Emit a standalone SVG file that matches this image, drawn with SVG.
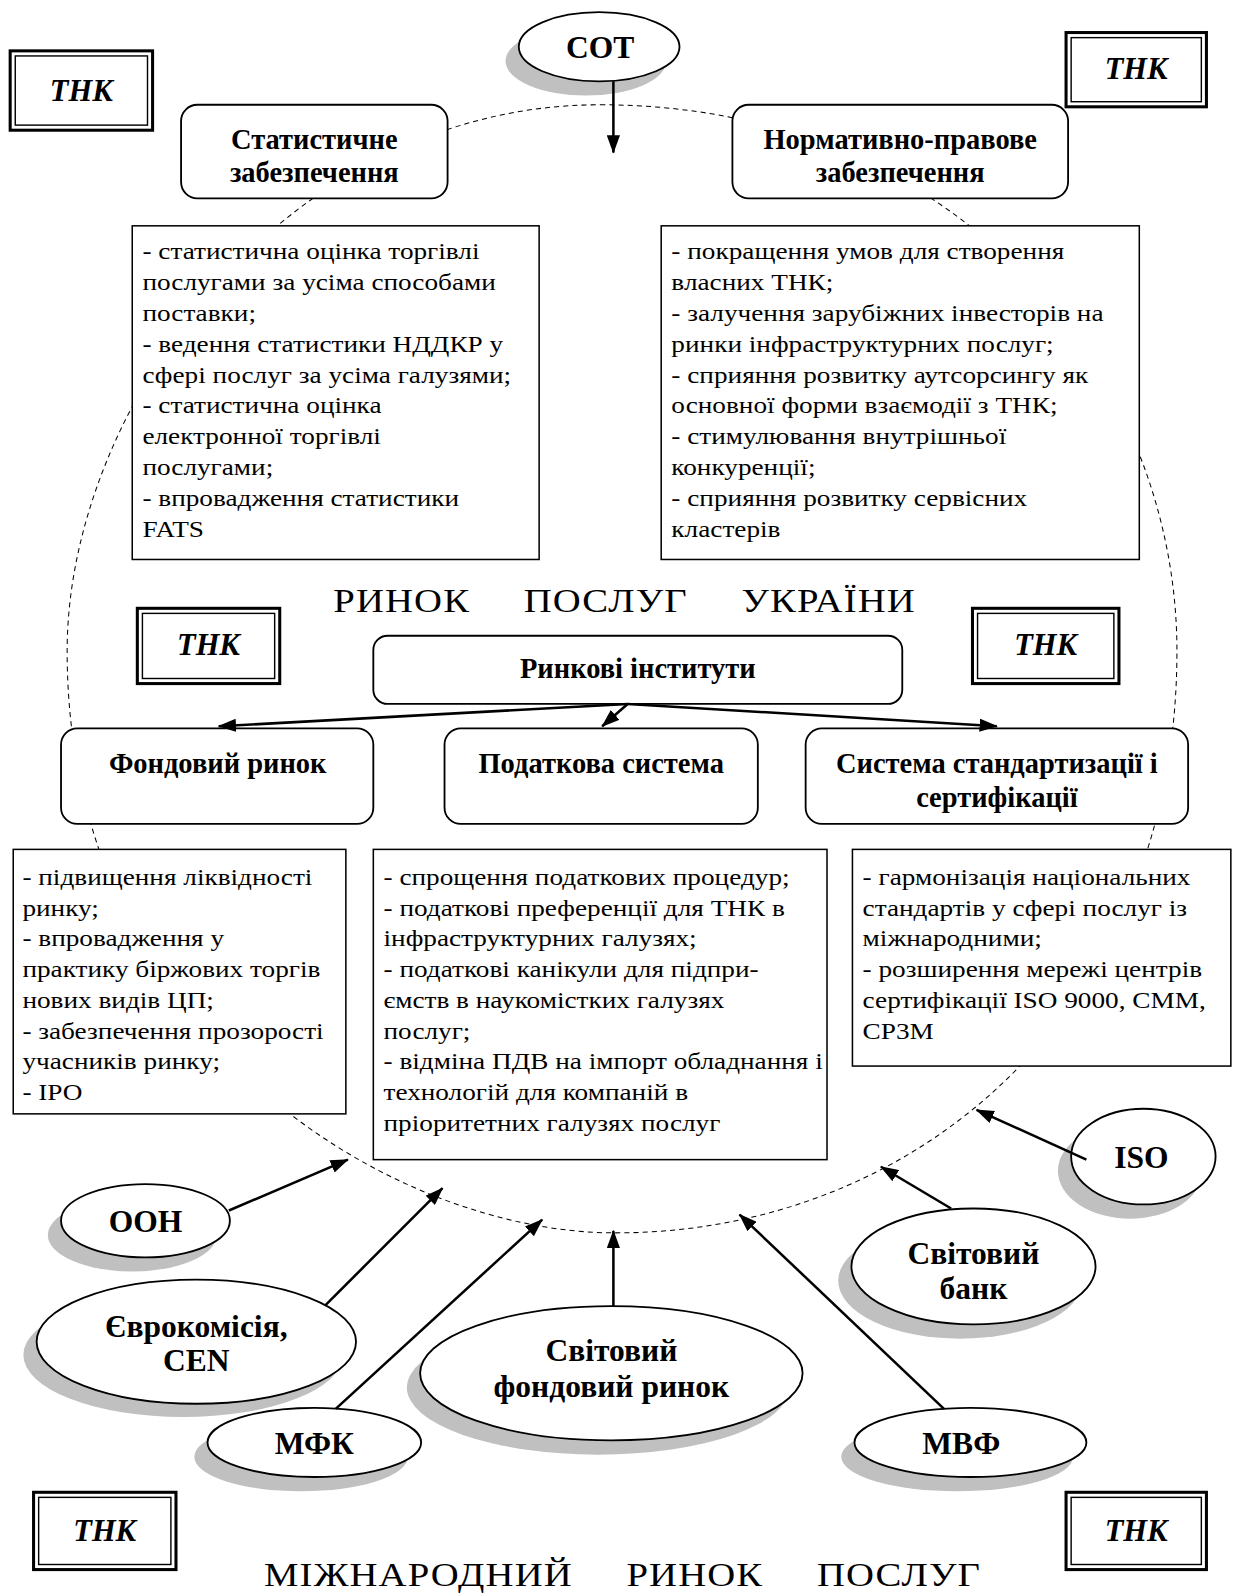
<svg xmlns="http://www.w3.org/2000/svg" width="1240" height="1595" viewBox="0 0 1240 1595">
<defs>
<style>
.bg{fill:#fff}
.circ{fill:none;stroke:#000;stroke-width:1;stroke-dasharray:5 4}
.rbox{fill:#fff;stroke:#000;stroke-width:1.8}
.tbox{fill:#fff;stroke:#000;stroke-width:1.5}
.ell{fill:#fff;stroke:#000;stroke-width:1.8}
.shd{fill:#c0c0c0;stroke:none}
.out{fill:#fff;stroke:#000;stroke-width:3}
.inn{fill:none;stroke:#000;stroke-width:1.4}
.arr{fill:none;stroke:#000;stroke-width:2.5;marker-end:url(#ah)}
.lbl{font-family:"Liberation Serif","DejaVu Serif",serif;font-weight:bold;font-size:28px;text-anchor:middle;fill:#000}
.big{font-size:31px}
.thk{font-family:"Liberation Serif","DejaVu Serif",serif;font-weight:bold;font-style:italic;font-size:30px;text-anchor:middle;fill:#000}
.body{font-family:"Liberation Serif","DejaVu Serif",serif;font-size:23.5px;fill:#000}
.ttl{font-family:"Liberation Serif","DejaVu Serif",serif;font-size:34px;text-anchor:middle;fill:#000;word-spacing:37.5px;letter-spacing:1px}
</style>
<marker id="ah" markerWidth="18" markerHeight="13" refX="17" refY="6.5" orient="auto" markerUnits="userSpaceOnUse">
<path d="M0,0 L18,6.5 L0,13 z" fill="#000"/>
</marker>
</defs>
<rect class="bg" x="0" y="0" width="1240" height="1595"/>
<g transform="scale(1.01723)">
<g id="market-oval">
<path class="circ" d="M590,103 C947,103 1157,372 1157,640 C1157,990 905,1212 605,1212 C385,1212 66,1020 66,640 C66,400 280,103 590,103 Z"/>
</g>

<g id="thk-tl"><rect class="out" x="10" y="50" width="140" height="78"/><rect class="inn" x="15" y="55" width="130" height="68"/><text class="thk" x="80" y="99">ТНК</text></g>
<g id="thk-tr"><rect class="out" x="1048" y="32" width="138" height="73"/><rect class="inn" x="1053" y="37" width="128" height="63"/><text class="thk" x="1117" y="78">ТНК</text></g>
<g id="thk-ml"><rect class="out" x="135" y="598" width="140" height="74"/><rect class="inn" x="140" y="603" width="130" height="64"/><text class="thk" x="205" y="644">ТНК</text></g>
<g id="thk-mr"><rect class="out" x="956" y="598" width="144" height="74"/><rect class="inn" x="961" y="603" width="134" height="64"/><text class="thk" x="1028" y="644">ТНК</text></g>
<g id="thk-bl"><rect class="out" x="33" y="1467" width="140" height="76"/><rect class="inn" x="38" y="1472" width="130" height="66"/><text class="thk" x="103" y="1515">ТНК</text></g>
<g id="thk-br"><rect class="out" x="1048" y="1467" width="138" height="76"/><rect class="inn" x="1053" y="1472" width="128" height="66"/><text class="thk" x="1117" y="1515">ТНК</text></g>

<g id="cot"><ellipse class="shd" cx="576" cy="60" rx="79" ry="34"/><ellipse class="ell" cx="589" cy="46" rx="79" ry="34"/><text class="lbl big" x="590" y="57">СОТ</text></g>

<g id="stat"><rect class="rbox" x="178" y="103" width="262" height="92" rx="16"/><text class="lbl" x="309" y="146">Статистичне</text><text class="lbl" x="309" y="179">забезпечення</text></g>
<g id="norm"><rect class="rbox" x="720" y="103" width="330" height="92" rx="16"/><text class="lbl" x="885" y="146">Нормативно-правове</text><text class="lbl" x="885" y="179">забезпечення</text></g>

<g id="stat-list"><rect class="tbox" x="130" y="222" width="400" height="328"/>
<text class="body" transform="translate(140,0) scale(1.14,1)"><tspan x="0" y="255">- статистична оцінка торгівлі</tspan><tspan x="0" dy="30.3">послугами за усіма способами</tspan><tspan x="0" dy="30.3">поставки;</tspan><tspan x="0" dy="30.3">- ведення статистики НДДКР у</tspan><tspan x="0" dy="30.3">сфері послуг за усіма галузями;</tspan><tspan x="0" dy="30.3">- статистична оцінка</tspan><tspan x="0" dy="30.3">електронної торгівлі</tspan><tspan x="0" dy="30.3">послугами;</tspan><tspan x="0" dy="30.3">- впровадження статистики</tspan><tspan x="0" dy="30.3">FATS</tspan></text></g>

<g id="norm-list"><rect class="tbox" x="650" y="222" width="470" height="328"/>
<text class="body" transform="translate(660,0) scale(1.14,1)"><tspan x="0" y="255">- покращення умов для створення</tspan><tspan x="0" dy="30.3">власних ТНК;</tspan><tspan x="0" dy="30.3">- залучення зарубіжних інвесторів на</tspan><tspan x="0" dy="30.3">ринки інфраструктурних послуг;</tspan><tspan x="0" dy="30.3">- сприяння розвитку аутсорсингу як</tspan><tspan x="0" dy="30.3">основної форми взаємодії з ТНК;</tspan><tspan x="0" dy="30.3">- стимулювання внутрішньої</tspan><tspan x="0" dy="30.3">конкуренції;</tspan><tspan x="0" dy="30.3">- сприяння розвитку сервісних</tspan><tspan x="0" dy="30.3">кластерів</tspan></text></g>

<text class="ttl" transform="translate(614,0) scale(1.12,1)" x="0" y="602">РИНОК ПОСЛУГ УКРАЇНИ</text>

<g id="inst"><rect class="rbox" x="367" y="625" width="520" height="67" rx="14"/><text class="lbl" x="627" y="667">Ринкові інститути</text></g>
<g id="fond"><rect class="rbox" x="60" y="716" width="307" height="94" rx="16"/><text class="lbl" x="214" y="760">Фондовий ринок</text></g>
<g id="tax"><rect class="rbox" x="437" y="716" width="308" height="94" rx="16"/><text class="lbl" x="591" y="760">Податкова система</text></g>
<g id="std"><rect class="rbox" x="792" y="716" width="376" height="94" rx="16"/><text class="lbl" x="980" y="760">Система стандартизації і</text><text class="lbl" x="980" y="793">сертифікації</text></g>

<g id="fond-list"><rect class="tbox" x="13" y="835" width="327" height="260"/>
<text class="body" transform="translate(22,0) scale(1.14,1)"><tspan x="0" y="870">- підвищення ліквідності</tspan><tspan x="0" dy="30.2">ринку;</tspan><tspan x="0" dy="30.2">- впровадження у</tspan><tspan x="0" dy="30.2">практику біржових торгів</tspan><tspan x="0" dy="30.2">нових видів ЦП;</tspan><tspan x="0" dy="30.2">- забезпечення прозорості</tspan><tspan x="0" dy="30.2">учасників ринку;</tspan><tspan x="0" dy="30.2">- ІРО</tspan></text></g>

<g id="tax-list"><rect class="tbox" x="367" y="835" width="446" height="305"/>
<text class="body" transform="translate(377,0) scale(1.14,1)"><tspan x="0" y="870">- спрощення податкових процедур;</tspan><tspan x="0" dy="30.2">- податкові преференції для ТНК в</tspan><tspan x="0" dy="30.2">інфраструктурних галузях;</tspan><tspan x="0" dy="30.2">- податкові канікули для підпри-</tspan><tspan x="0" dy="30.2">ємств в наукомістких галузях</tspan><tspan x="0" dy="30.2">послуг;</tspan><tspan x="0" dy="30.2">- відміна ПДВ на імпорт обладнання і</tspan><tspan x="0" dy="30.2">технологій для компаній в</tspan><tspan x="0" dy="30.2">пріоритетних галузях послуг</tspan></text></g>

<g id="std-list"><rect class="tbox" x="838" y="835" width="372" height="213"/>
<text class="body" transform="translate(848,0) scale(1.14,1)"><tspan x="0" y="870">- гармонізація національних</tspan><tspan x="0" dy="30.2">стандартів у сфері послуг із</tspan><tspan x="0" dy="30.2">міжнародними;</tspan><tspan x="0" dy="30.2">- розширення мережі центрів</tspan><tspan x="0" dy="30.2">сертифікації ISO 9000, CMM,</tspan><tspan x="0" dy="30.2">CP3M</tspan></text></g>

<g id="oon"><ellipse class="shd" cx="130" cy="1214" rx="83" ry="36"/><ellipse class="ell" cx="143" cy="1200" rx="83" ry="36"/><text class="lbl big" x="143" y="1211">ООН</text></g>
<g id="euro"><ellipse class="shd" cx="180" cy="1332" rx="157" ry="61"/><ellipse class="ell" cx="193" cy="1319" rx="157" ry="61"/><text class="lbl big" x="193" y="1314">Єврокомісія,</text><text class="lbl big" x="193" y="1348">CEN</text></g>
<g id="wsm"><ellipse class="shd" cx="588" cy="1364" rx="188" ry="66"/><ellipse class="ell" cx="601" cy="1350" rx="188" ry="66"/><text class="lbl big" x="601" y="1338">Світовий</text><text class="lbl big" x="601" y="1373">фондовий ринок</text></g>
<g id="mfk"><ellipse class="shd" cx="296" cy="1432" rx="105" ry="34"/><ellipse class="ell" cx="309" cy="1418" rx="105" ry="34"/><text class="lbl big" x="309" y="1429">МФК</text></g>
<g id="mvf"><ellipse class="shd" cx="941" cy="1432" rx="114" ry="34"/><ellipse class="ell" cx="954" cy="1418" rx="114" ry="34"/><text class="lbl big" x="945" y="1429">МВФ</text></g>
<g id="wb"><ellipse class="shd" cx="944" cy="1259" rx="120" ry="57"/><ellipse class="ell" cx="957" cy="1245" rx="120" ry="57"/><text class="lbl big" x="957" y="1243">Світовий</text><text class="lbl big" x="957" y="1277">банк</text></g>
<g id="iso"><ellipse class="shd" cx="1111" cy="1151" rx="71" ry="47"/><ellipse class="ell" cx="1124" cy="1137" rx="71" ry="47"/><text class="lbl big" x="1122" y="1148">ISO</text></g>

<text class="ttl" transform="translate(612,0) scale(1.12,1)" x="0" y="1559">МІЖНАРОДНИЙ РИНОК ПОСЛУГ</text>

<g id="connectors">
<line class="arr" x1="603" y1="80" x2="603" y2="150"/>
<line class="arr" x1="617" y1="692" x2="215" y2="714"/>
<line class="arr" x1="617" y1="692" x2="592" y2="714"/>
<line class="arr" x1="617" y1="692" x2="980" y2="714"/>
<line class="arr" x1="225" y1="1190" x2="342" y2="1140"/>
<line class="arr" x1="320" y1="1283" x2="435" y2="1168"/>
<line class="arr" x1="330" y1="1385" x2="533" y2="1199"/>
<line class="arr" x1="603" y1="1284" x2="603" y2="1210"/>
<line class="arr" x1="928" y1="1385" x2="727" y2="1194"/>
<line class="arr" x1="935" y1="1188" x2="866" y2="1147"/>
<line class="arr" x1="1068" y1="1140" x2="960" y2="1091"/>
</g>
</g>
</svg>
